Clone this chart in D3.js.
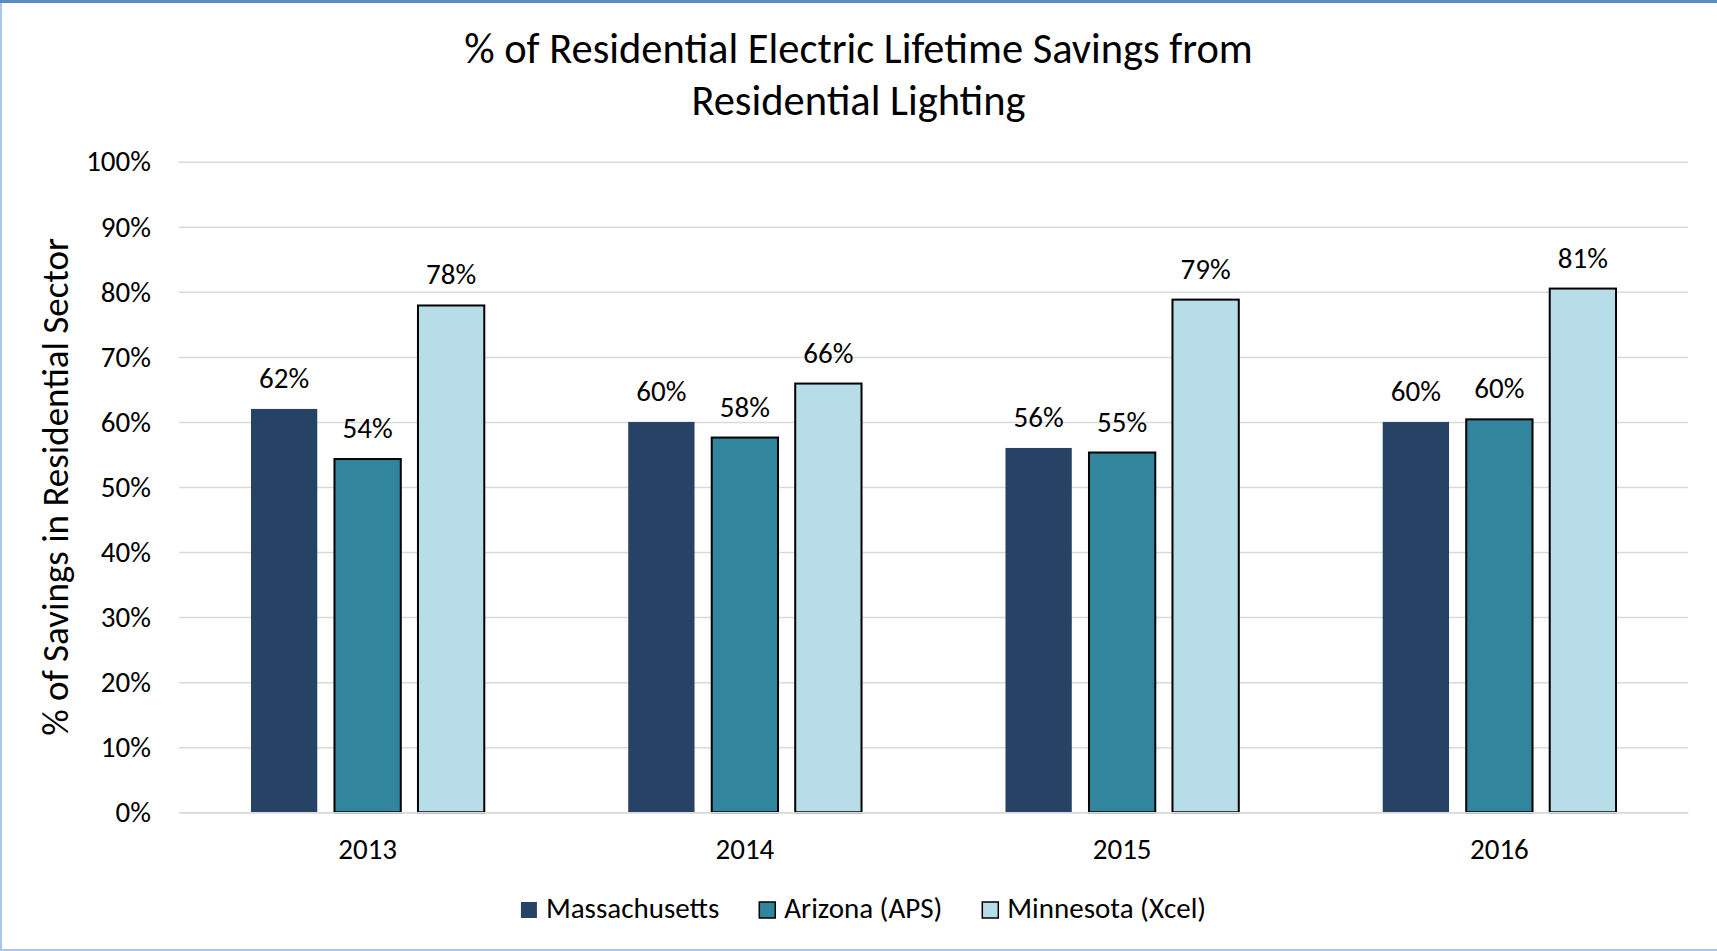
<!DOCTYPE html>
<html>
<head>
<meta charset="utf-8">
<script src="https://cdn.jsdelivr.net/npm/d3@7"></script>
<style>
  html, body { margin: 0; padding: 0; background: #fff; }
  svg { display: block; }
  text { font-family: Carlito, Calibri, Lato, "Open Sans", sans-serif; fill: #000; }
</style>
</head>
<body>
<svg id="chart" width="1717" height="951"></svg>
<script>
// Share of residential electric lifetime savings coming from residential lighting
const years = ["2013", "2014", "2015", "2016"];
const seriesNames = ["Massachusetts", "Arizona (APS)", "Minnesota (Xcel)"];
const massachusetts = [0.620, 0.600, 0.560, 0.600];
const arizona = [0.543, 0.576, 0.553, 0.604];
const minnesota = [0.779, 0.659, 0.788, 0.805];
const yTicks = [0, 0.1, 0.2, 0.3, 0.4, 0.5, 0.6, 0.7, 0.8, 0.9, 1.0];
const titleLines = ["% of Residential Electric Lifetime Savings from", "Residential Lighting"];
const yAxisTitle = "% of Savings in Residential Sector";

const seriesValues = [massachusetts, arizona, minnesota];
const seriesFill = ["#264264", "#31859c", "#b7dde8"];
const seriesStroke = [null, "#000", "#000"];

const W = 1717, H = 951;
const plot = { left: 179, right: 1688, top: 161.7, bottom: 812.3 };

const svg = d3.select("#chart");

// frame
svg.append("rect").attr("x", 0).attr("y", 0).attr("width", W).attr("height", H).attr("fill", "#fff");
svg.append("line").attr("x1", 1).attr("x2", 1).attr("y1", 0).attr("y2", H)
  .attr("stroke", "#a8c7ea").attr("stroke-width", 2);
svg.append("line").attr("x1", 0).attr("x2", W).attr("y1", 950).attr("y2", 950)
  .attr("stroke", "#a8c7ea").attr("stroke-width", 2);
svg.append("line").attr("x1", 0).attr("x2", W).attr("y1", 1.5).attr("y2", 1.5)
  .attr("stroke", "#5b8bc6").attr("stroke-width", 3);

const pct = d3.format(".0%");

const x = d3.scaleBand().domain(years).range([plot.left, plot.right]).padding(0);
const clusterW = 233.3;
const xs = d3.scaleBand().domain(seriesNames)
  .range([(x.bandwidth() - clusterW) / 2, (x.bandwidth() + clusterW) / 2])
  .paddingInner(0.206).paddingOuter(0);
const y = d3.scaleLinear().domain([0, 1]).range([plot.bottom, plot.top]);

// gridlines + y tick labels
const yAxis = svg.append("g")
  .attr("transform", `translate(${plot.left},0)`)
  .call(d3.axisLeft(y).tickValues(yTicks).tickFormat(pct)
    .tickSize(-(plot.right - plot.left)).tickPadding(28));
yAxis.select(".domain").remove();
yAxis.selectAll(".tick line").attr("stroke", "#d9d9d9").attr("stroke-width", 1.5);
yAxis.selectAll(".tick text").attr("font-size", 29).attr("fill", "#000");
yAxis.attr("font-family", null);

// bars
const groups = svg.append("g").selectAll("g")
  .data(years).join("g")
  .attr("transform", d => `translate(${x(d)},0)`);

const rows = (yi) => seriesNames.map((s, si) => ({ s, si, v: seriesValues[si][yi] }));

groups.each(function (yr, yi) {
  const g = d3.select(this);
  g.selectAll("rect").data(rows(yi)).join("rect")
    .attr("x", d => xs(d.s))
    .attr("width", xs.bandwidth())
    .attr("y", d => y(d.v))
    .attr("height", d => y(0) - y(d.v))
    .attr("fill", d => seriesFill[d.si])
    .attr("stroke", d => seriesStroke[d.si] || "none")
    .attr("stroke-width", 2);
  g.selectAll("text").data(rows(yi)).join("text")
    .attr("x", d => xs(d.s) + xs.bandwidth() / 2)
    .attr("y", d => y(d.v) - 21)
    .attr("text-anchor", "middle")
    .attr("font-size", 29)
    .text(d => pct(d.v));
});

// horizontal axis line drawn over bar bottoms
const xAxis = svg.append("g")
  .attr("transform", `translate(0,${plot.bottom})`)
  .call(d3.axisBottom(x).tickSize(0).tickPadding(0));
xAxis.attr("font-family", null);
xAxis.select(".domain").attr("stroke", "#d9d9d9").attr("stroke-width", 1.5);
xAxis.selectAll(".tick text").attr("font-size", 29).attr("fill", "#000")
  .attr("dy", null).attr("y", 47);

// title
svg.append("text")
  .attr("text-anchor", "middle")
  .attr("font-size", 42.5)
  .selectAll("tspan").data(titleLines).join("tspan")
  .attr("x", W / 2)
  .attr("y", (d, i) => 63 + i * 51.5)
  .text(d => d);

// y axis title
svg.append("text")
  .attr("transform", `translate(68,${(plot.top + plot.bottom) / 2}) rotate(-90)`)
  .attr("text-anchor", "middle")
  .attr("font-size", 37)
  .text(yAxisTitle);

// legend
const legend = svg.append("g");
const items = legend.selectAll("g").data(seriesNames).join("g");
items.append("rect")
  .attr("width", 16).attr("height", 16).attr("y", -16)
  .attr("fill", (d, i) => seriesFill[i])
  .attr("stroke", (d, i) => seriesStroke[i] || "none")
  .attr("stroke-width", 1.5);
items.append("text")
  .attr("x", 25).attr("y", 0)
  .attr("font-size", 29)
  .text(d => d);
let cursor = 0;
items.each(function () {
  const g = d3.select(this);
  const w = 25 + g.select("text").node().getComputedTextLength();
  g.attr("transform", `translate(${cursor},0)`);
  cursor += w + 40;
});
const legendW = cursor - 40;
legend.attr("transform", `translate(${863.5 - legendW / 2},918)`);
</script>
</body>
</html>
